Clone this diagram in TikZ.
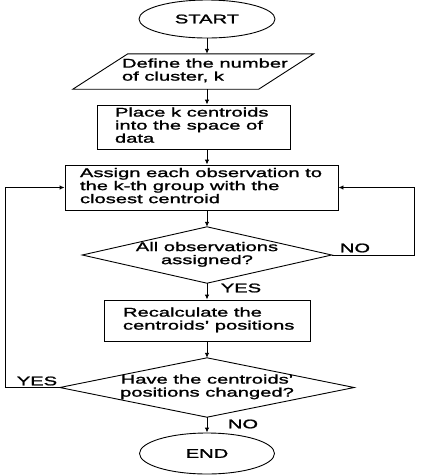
\documentclass[tikz,border=0pt]{standalone}
\usepackage{fontspec}
\setmainfont{Liberation Sans}[FakeStretch=1.6,FakeBold=1.5]
\usetikzlibrary{arrows.meta,shapes.geometric}
\newcommand\lefttext[3]{\makebox[#1pt][l]{\hspace{#2pt}\begin{tabular}{@{}l@{}}#3\end{tabular}}}
\newcommand\midtext[1]{\begin{tabular}{@{}c@{}}#1\end{tabular}}
\begin{document}
\begin{tikzpicture}[x=1pt,y=-1pt,
  every node/.style={font=\fontsize{12.6}{13}\selectfont, inner sep=0pt},
  shp/.style={draw, line width=0.9pt},
  arr/.style={line width=0.9pt, -{Latex[length=5pt,width=4.5pt]}},
  lbl/.style={}]
\useasboundingbox (0,0) rectangle (421,475);
% nodes
\node[ellipse, shp, minimum width=136, minimum height=38] (start) at (207,19) {START};
\node[minimum width=185.5, minimum height=35] (def) at (193.25,71.5)
  {\lefttext{185.5}{21.5}{Define the number\\of cluster, k}};
\draw[shp] ([xshift=27.5pt]def.north west) -- ([xshift=27.5pt]def.north east)
  -- ([xshift=-27.5pt]def.south east) -- ([xshift=-27.5pt]def.south west) -- cycle;
\node[shp, minimum width=193, minimum height=44] (place) at (193.5,127)
  {\lefttext{193}{18}{Place k centroids\\into the space of\\data}};
\node[shp, minimum width=273, minimum height=45] (assign) at (201.5,187.5)
  {\lefttext{273}{15}{Assign each observation to\\the k-th group with the\\closest centroid}};
\node[minimum width=249, minimum height=56] (d1) at (207,255)
  {\midtext{All observations\\assigned?}};
\draw[shp] (d1.north) -- (d1.east) -- (d1.south) -- (d1.west) -- cycle;
\node[shp, minimum width=206, minimum height=41] (recalc) at (207,320.5)
  {\lefttext{206}{19}{Recalculate the\\centroids' positions}};
\node[minimum width=294, minimum height=59] (d2) at (207,387.5)
  {\midtext{Have the centroids'\\positions changed?}};
\draw[shp] (d2.north) -- (d2.east) -- (d2.south) -- (d2.west) -- cycle;
\node[ellipse, shp, minimum width=135, minimum height=41] (end) at (207,453.5) {END};
% labels
\node[lbl] (no1) at (355,248) {NO};
\node[lbl] (yes1) at (241,288) {YES};
\node[lbl] (yes2) at (37,381) {YES};
\node[lbl] (no2) at (243,424) {NO};
% connectors
\draw[arr] (start.south) -- (start.south |- def.north);
\draw[arr] (def.south -| start) -- (place.north -| start);
\draw[arr] (place.south -| start) -- (assign.north -| start);
\draw[arr] (assign.south -| start) -- (d1.north);
\draw[arr] (d1.south) -- (recalc.north);
\draw[arr] (recalc.south) -- (d2.north);
\draw[arr] (d2.south) -- (end.north);
\coordinate (noR) at (414,0);
\coordinate (yesL) at (5,0);
\draw[arr] (d1.east) -- (d1.east -| noR) -- (assign.east -| noR) -- (assign.east);
\draw[arr] (d2.west) -- (d2.west -| yesL) -- (assign.west -| yesL) -- (assign.west);
\end{tikzpicture}
\end{document}
